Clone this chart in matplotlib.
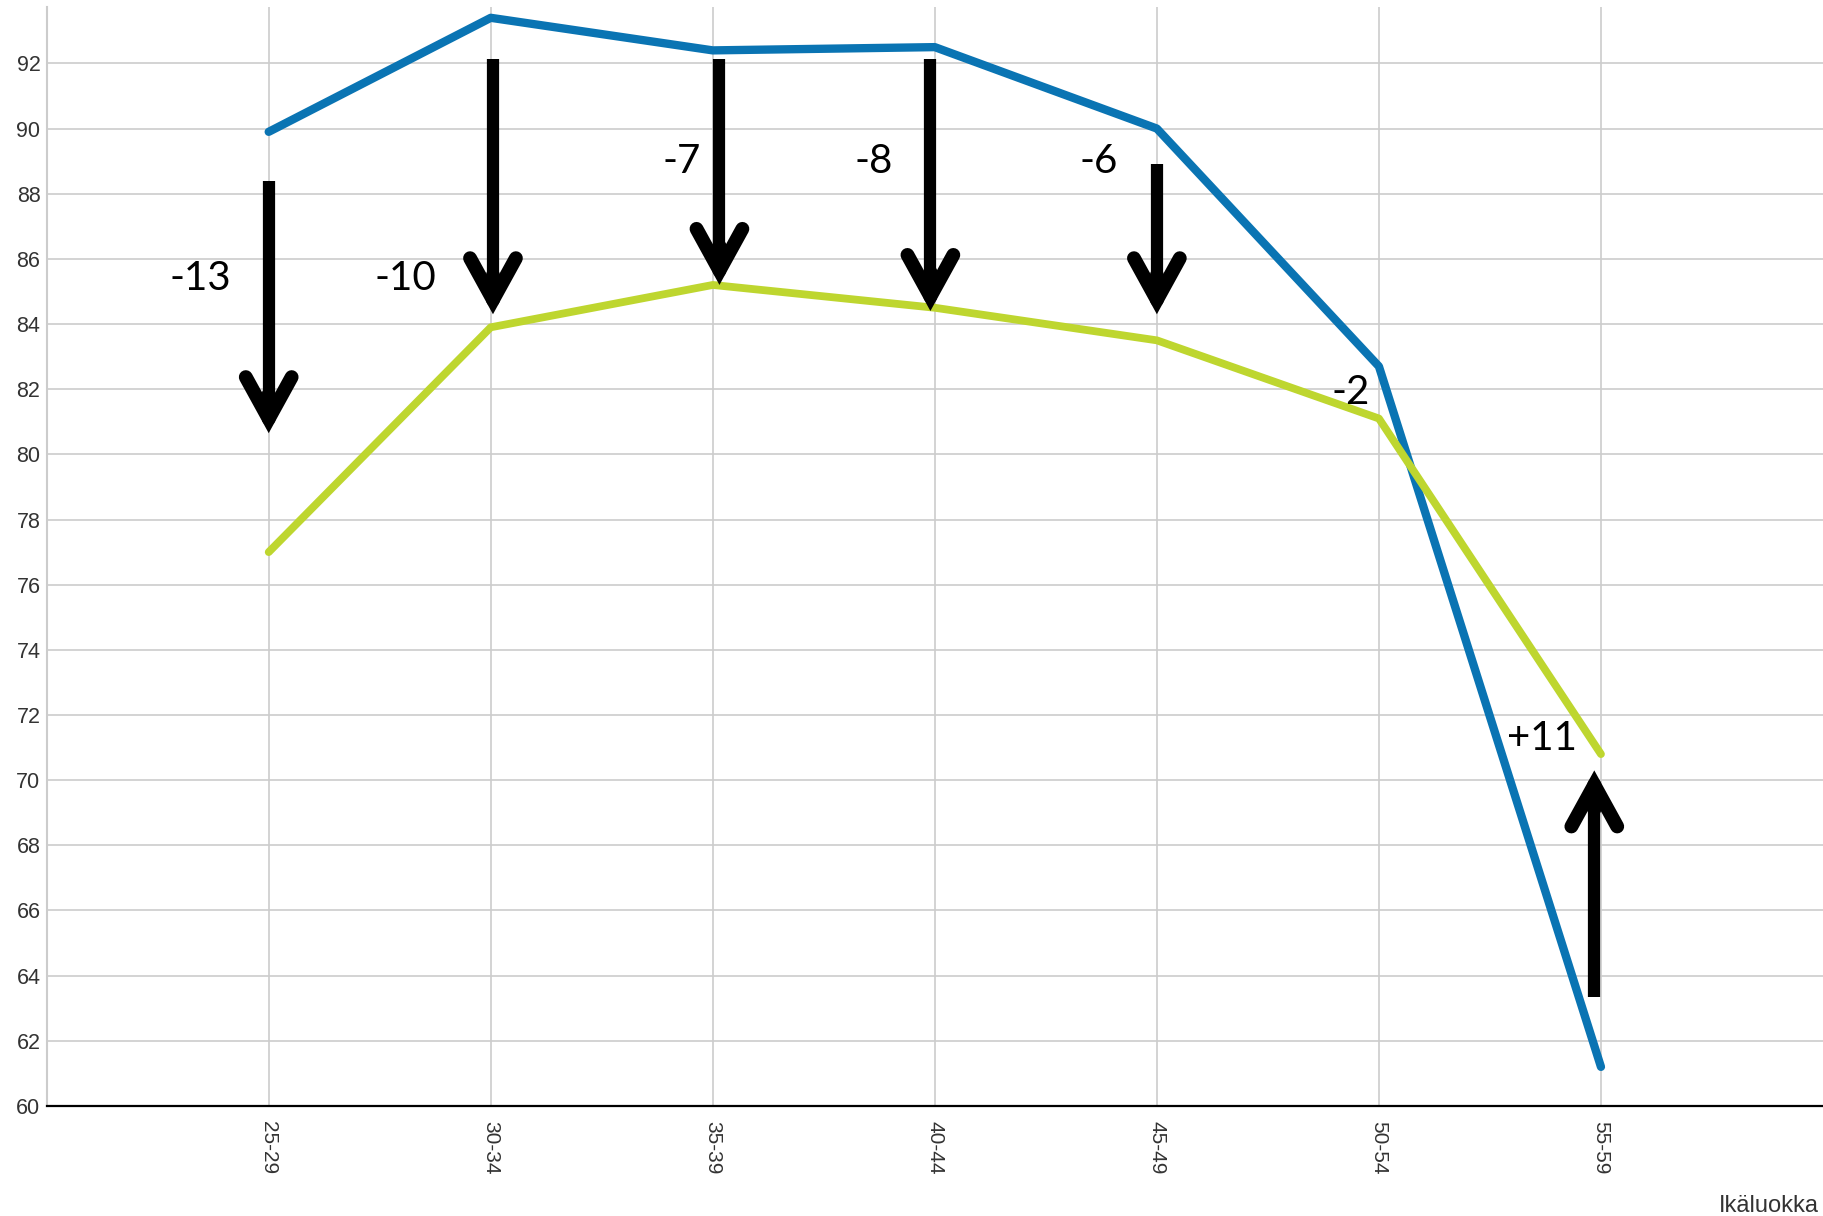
import numpy as np
import matplotlib.pyplot as plt

# age groups and the two series
ages = ["25-29", "30-34", "35-39", "40-44", "45-49", "50-54", "55-59"]
blue_vals = [89.9, 93.4, 92.4, 92.5, 90.0, 82.7, 61.2]
green_vals = [77.0, 83.9, 85.2, 84.5, 83.5, 81.1, 70.8]

# hand drawn arrows: x position, start value, end value
arrow_x = [0.0, 1.01, 2.03, 2.98, 4.0, 5.97]
arrow_from = [88.4, 92.15, 92.15, 92.15, 88.9, 63.35]
arrow_to = [80.65, 84.3, 85.2, 84.4, 84.3, 70.3]

# difference labels
diff_text = ["-13", "-10", "-7", "-8", "-6", "-2", "+11"]
diff_x = [-0.31, 0.615, 1.86, 2.726, 3.74, 4.873, 5.735]
diff_y = [85.5, 85.5, 89.1, 89.1, 89.1, 82.0, 71.4]

yticks = np.arange(60, 93, 2)

fig = plt.figure(figsize=(18.23, 12.16), dpi=100)
ax = fig.add_axes([0.0256, 0.0905, 0.9744, 0.9037])

x = np.arange(len(ages))
ax.plot(x, blue_vals, color="#0A74B3", lw=6, solid_capstyle="round",
        solid_joinstyle="round", zorder=3)
ax.plot(x, green_vals, color="#BED62F", lw=5.6, solid_capstyle="round",
        solid_joinstyle="round", zorder=3)

for xa, y0, y1 in zip(arrow_x, arrow_from, arrow_to):
    d = 1.0 if y1 < y0 else -1.0
    # shaft with a flat end, stops inside the head
    ax.plot([xa, xa], [y0, y1 + d], color="black", lw=8.8,
            solid_capstyle="butt", zorder=5)
    # open head
    ax.annotate("", xy=(xa, y1), xytext=(xa, y1 + d * 1.2),
                arrowprops=dict(arrowstyle="->,head_length=1.0,head_width=0.55",
                                lw=10, color="black", shrinkA=0, shrinkB=0,
                                mutation_scale=30, capstyle="round",
                                joinstyle="miter"),
                zorder=5)

for t, xt, yt in zip(diff_text, diff_x, diff_y):
    ax.text(xt, yt, t, fontsize=29, family="Lato", ha="center",
            va="center_baseline", color="black", zorder=6)

ax.set_xlim(-1, 7)
ax.set_ylim(60, 93.73)
ax.set_xticks(x)
ax.set_xticklabels(ages, rotation=270, family="Liberation Sans",
                   fontsize=15, color="#333333")
ax.set_yticks(yticks)
ax.set_yticklabels([str(v) for v in yticks], family="Liberation Sans",
                   fontsize=15.5, color="#333333")
ax.tick_params(axis="both", length=0)
ax.tick_params(axis="x", pad=11)
ax.tick_params(axis="y", pad=4.5)

ax.grid(True, color="#cccccc", lw=1.2)
ax.set_axisbelow(True)
for s in ["top", "right"]:
    ax.spines[s].set_visible(False)
ax.spines["left"].set_color("#cccccc")
ax.spines["left"].set_linewidth(1.5)
ax.spines["bottom"].set_color("black")
ax.spines["bottom"].set_linewidth(1.6)

fig.text(0.9975, 0.003, "Ikäluokka", ha="right", va="baseline",
         family="Liberation Sans", fontsize=17, color="#333333")

fig.savefig("out.png", dpi=100)
